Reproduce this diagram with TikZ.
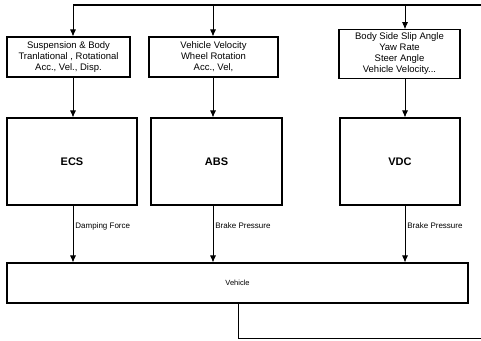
\documentclass[tikz,border=0pt]{standalone}
\usepackage{fontspec}
\setmainfont{Liberation Sans}
\usepackage{tikz}
\usetikzlibrary{arrows.meta}

\begin{document}
\begin{tikzpicture}[x=1pt, y=-1pt, >={Latex[length=7pt,width=6pt]},
  sensbox/.style={draw, line width=1.1pt, align=center, minimum height=40pt,
    font=\fontsize{9.5}{11}\selectfont},
  ctrlbox/.style={draw, line width=1.1pt, minimum height=87pt,
    font=\fontsize{11}{13}\selectfont\bfseries},
  lbl/.style={right, inner xsep=2pt, font=\fontsize{8}{10}\selectfont},
  wire/.style={line width=0.8pt}]
\useasboundingbox (0,0) rectangle (481,340);

\node[sensbox, minimum width=123pt] (susp) at (68.5,57) {Suspension \& Body\\Tranlational , Rotational\\Acc., Vel., Disp.};
\node[sensbox, minimum width=129pt] (wheel) at (213.5,57) {Vehicle Velocity\\Wheel Rotation\\Acc., Vel,};
\node[sensbox, minimum width=121pt, minimum height=46pt] (yaw) at (399.5,54) {Body Side Slip Angle\\Yaw Rate\\Steer Angle\\Vehicle Velocity...};

\node[ctrlbox, minimum width=130pt] (ecs) at (72,161.5) {ECS};
\node[ctrlbox, minimum width=131pt] (abs) at (216.5,161.5) {ABS};
\node[ctrlbox, minimum width=120pt] (vdc) at (400,161.5) {VDC};

\node[draw, line width=1.1pt, minimum width=461pt, minimum height=40pt,
  font=\fontsize{7.5}{9}\selectfont] (veh) at (237.5,283) {Vehicle};

% feedback loop
\coordinate (c1) at (73,5);
\coordinate (c2) at (213,5);
\coordinate (c3) at (405,5);
\coordinate (fbin) at (481,5);
\coordinate (fb) at (238,338);
\coordinate (fbout) at (481,338);

\draw[line width=1.2pt] (c1) -- (fbin);
\draw[wire, ->] (c1) -- (c1 |- susp.north);
\draw[wire, ->] (c2) -- (c2 |- wheel.north);
\draw[wire, ->] (c3) -- (c3 |- yaw.north);

\draw[wire, ->] (c1 |- susp.south) -- (c1 |- ecs.north);
\draw[wire, ->] (c2 |- wheel.south) -- (c2 |- abs.north);
\draw[wire, ->] (c3 |- yaw.south) -- (c3 |- vdc.north);

\draw[wire, ->] (c1 |- ecs.south) -- node[lbl, pos=0.36]{Damping Force} (c1 |- veh.north);
\draw[wire, ->] (c2 |- abs.south) -- node[lbl, pos=0.36]{Brake Pressure} (c2 |- veh.north);
\draw[wire, ->] (c3 |- vdc.south) -- node[lbl, pos=0.36]{Brake Pressure} (c3 |- veh.north);

\draw[wire] (fb |- veh.south) -- (fb) -- (fbout);
\end{tikzpicture}
\end{document}
